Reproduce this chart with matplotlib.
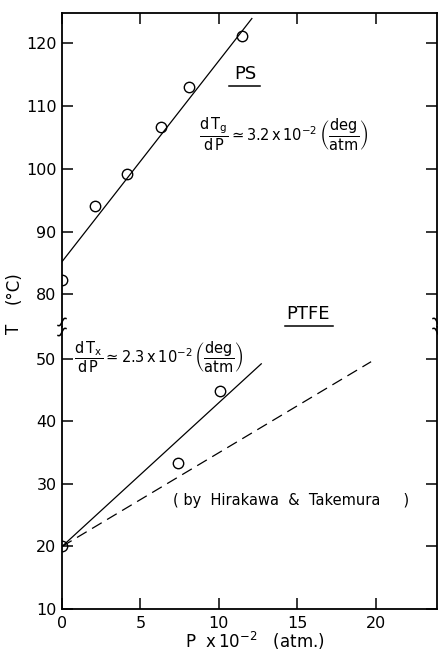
import numpy as np
import matplotlib.pyplot as plt
from matplotlib.lines import Line2D

plt.rcParams['font.family'] = ['DejaVu Sans']
plt.rcParams['mathtext.fontset'] = 'dejavusans'
plt.rcParams['mathtext.default'] = 'regular'

# --- data (P in units of 100 atm, T in deg C) ---
# PS: glass transition temperature
ps_p = [0.0, 2.1, 4.15, 6.3, 8.1, 11.45]
ps_t = [82.3, 94.0, 99.1, 106.6, 113.0, 121.1]
ps_t0 = 85.2
ps_slope = 3.2          # deg per 100 atm
ps_fit_end = 12.1

# PTFE: transition temperature
ptfe_p = [0.0, 7.4, 10.1]
ptfe_t = [20.0, 33.4, 44.9]
ptfe_t0 = 20.0
ptfe_slope = 2.3
ptfe_fit_end = 12.7

# PTFE after Hirakawa & Takemura (dashed)
hk_t0 = 20.0
hk_slope = 1.5
hk_fit_end = 19.7

x_ticks = [0, 5, 10, 15, 20]
upper_yticks = [80, 90, 100, 110, 120]
lower_yticks = [10, 20, 30, 40, 50]

W, H = 439, 653
fig = plt.figure(figsize=(W / 100, H / 100), dpi=100)

left, right = 62, 437
top, brk, bottom = 13, 327, 609
ax_up = fig.add_axes([left / W, (H - brk) / H, (right - left) / W, (brk - top) / H])
ax_lo = fig.add_axes([left / W, (H - bottom) / H, (right - left) / W, (bottom - brk) / H],
                     sharex=ax_up)

lw = 0.9
for ax in (ax_up, ax_lo):
    ax.set_xlim(0, 23.9)
    for s in ax.spines.values():
        s.set_linewidth(1.3)
    ax.tick_params(direction='in', length=8, width=1.1, labelsize=11.5, pad=4,
                   left=True, right=True)
    ax.minorticks_off()

ax_up.spines['bottom'].set_visible(False)
ax_lo.spines['top'].set_visible(False)

ax_up.set_ylim(74.8, 124.8)
ax_up.set_yticks(upper_yticks)
ax_up.tick_params(axis='x', top=True, bottom=False, labelbottom=False)
ax_up.set_xticks([5, 10, 15, 20])

ax_lo.set_ylim(10, 55.1)
ax_lo.set_yticks(lower_yticks)
ax_lo.set_xticks(x_ticks)
ax_lo.tick_params(axis='x', top=False, bottom=True, pad=5)

# PS
ps_line_p = np.array([0.0, ps_fit_end])
ax_up.plot(ps_line_p, ps_t0 + ps_slope * ps_line_p, color='black', lw=lw)
ax_up.plot(ps_p, ps_t, 'o', mfc='none', mec='black', ms=7.5, mew=1.0)

# PTFE
pt_line_p = np.array([0.0, ptfe_fit_end])
ax_lo.plot(pt_line_p, ptfe_t0 + ptfe_slope * pt_line_p, color='black', lw=lw)
hk_line_p = np.array([0.0, hk_fit_end])
ax_lo.plot(hk_line_p, hk_t0 + hk_slope * hk_line_p, color='black', lw=lw,
           dashes=(9, 5))
ax_lo.plot(ptfe_p, ptfe_t, 'o', mfc='none', mec='black', ms=7.5, mew=1.0)

# labels
ax_up.text(11.7, 115.1, 'PS', fontsize=13, ha='center', va='center')
ax_up.plot([10.65, 12.65], [113.2, 113.2], color='black', lw=1.1)
ax_up.text(8.75, 105.5,
           r'$\dfrac{d\,T_g}{d\,P}\simeq 3.2\,x\,10^{-2}\,\left(\dfrac{deg}{atm}\right)$',
           fontsize=10.5, ha='left', va='center')

ax_up.text(15.7, 76.8, 'PTFE', fontsize=13, ha='center', va='center')
ax_up.plot([14.2, 17.3], [74.9, 74.9], color='black', lw=1.1, clip_on=False)
ax_lo.text(0.75, 50.3,
           r'$\dfrac{d\,T_x}{d\,P}\simeq 2.3\,x\,10^{-2}\,\left(\dfrac{deg}{atm}\right)$',
           fontsize=10.5, ha='left', va='center')
ax_lo.text(7.1, 27.4, '( by  Hirakawa  &  Takemura     )', fontsize=10.5,
           ha='left', va='center')

fig.text(255 / W, 1 - 641 / H, r'P  x$\,10^{-2}$   (atm.)', fontsize=12,
         ha='center', va='center')
fig.text(14 / W, 1 - 329 / H, 'T', fontsize=12, rotation=90, ha='center', va='center')
fig.text(14 / W, 1 - 288 / H, '(°C)', fontsize=12, rotation=90, ha='center', va='center')

# axis break marks on both spines
t = np.linspace(-1, 1, 30)
for xc in (left, right):
    for yc in (322, 332):
        xs = xc + 4 * t * (1 if xc == left else -1)
        ys = yc - 3.5 * t - 1.5 * np.sin(np.pi * t)
        fig.add_artist(Line2D(xs / W, 1 - ys / H, color='black', lw=1.1,
                              transform=fig.transFigure))

fig.savefig('out.png', dpi=100)
